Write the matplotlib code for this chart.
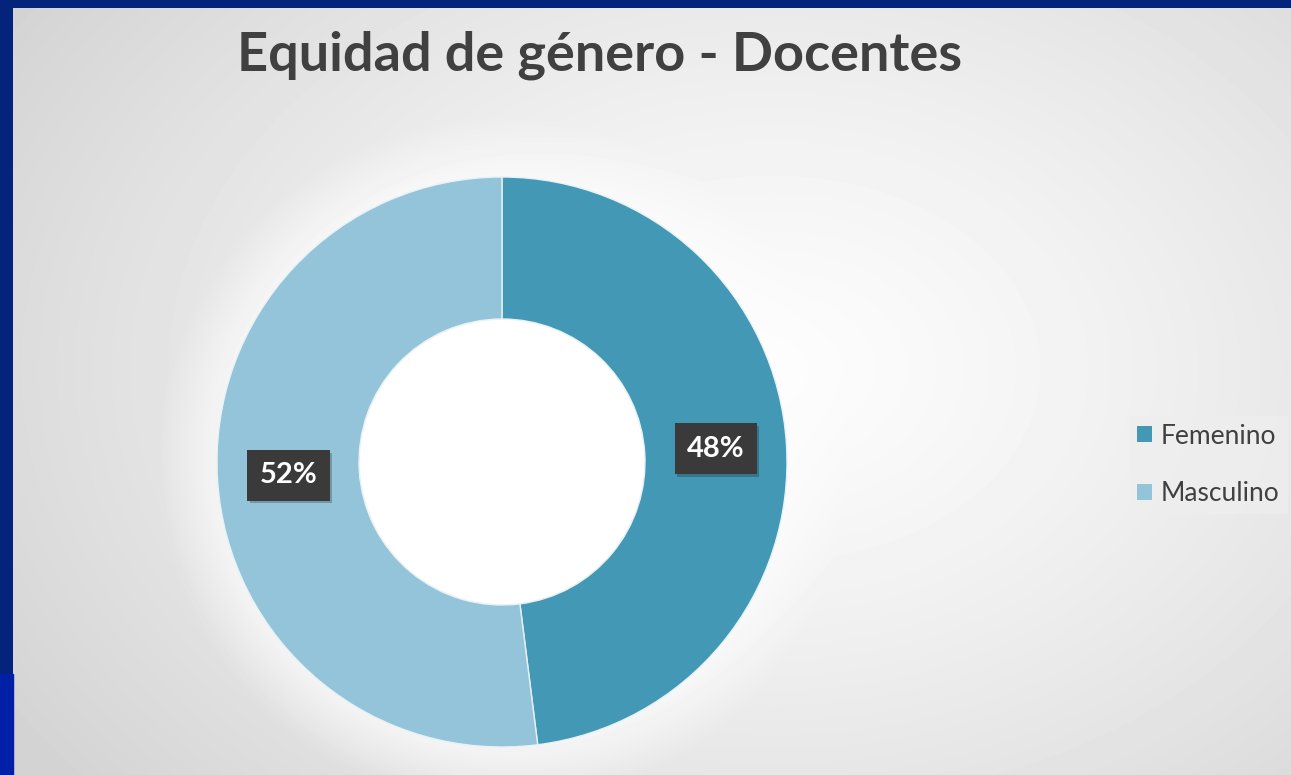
import numpy as np
import matplotlib.pyplot as plt
import matplotlib.patheffects as pe
from matplotlib.patches import Rectangle, Circle

# data
labels = ['Femenino', 'Masculino']
values = [48, 52]
colors = ['#4399b5', '#93c4d9']

W, H = 1291, 775
fig = plt.figure(figsize=(W / 100, H / 100), dpi=100)
fig.patch.set_facecolor('#04237a')

# background gradient panel
bg = fig.add_axes([13 / W, 0, 1 - 13 / W, 1 - 8 / H])
yy, xx = np.mgrid[0:767, 0:1278]
d = np.sqrt(((xx - 760) / 900.0) ** 2 + ((yy - 360) / 650.0) ** 2)
shade = 0.99 - 0.16 * np.clip(d, 0, 1) ** 1.3
# soft white glow around the donut
g = np.sqrt((xx - 489) ** 2 + (yy - 454) ** 2)
shade = shade + (0.99 - shade) * np.clip((345 - g) / 70, 0, 1) * 0.75
bg.imshow(shade, cmap='gray', vmin=0, vmax=1, aspect='auto', interpolation='bilinear')
bg.axis('off')

# lower left blue strip
fig.patches.append(Rectangle((0, 0), 13 / W, 101 / H, transform=fig.transFigure,
                             color='#0020a8', zorder=0))

fig.text(600 / W, 1 - 55 / H, 'Equidad de género - Docentes', ha='center', va='center',
         fontsize=39, fontweight='bold', color='#404040', family='Lato')

# donut
ax = fig.add_axes([(502 - 300) / W, (H - 462 - 300) / H, 600 / W, 600 / H])
wedges, _ = ax.pie(values, radius=285, colors=colors, startangle=90, counterclock=False,
                   wedgeprops=dict(width=142, edgecolor='#e8f2f6', linewidth=1.0))
ax.add_patch(Circle((0, 0), 142, fc='white', ec='none', zorder=0))
ax.set_xlim(-300, 300)
ax.set_ylim(-300, 300)
ax.set_aspect('equal')
ax.axis('off')

start = 90
for v, w in zip(values, wedges):
    mid = np.deg2rad(start - v * 360 / 100 / 2)
    start -= v * 360 / 100
    r = 285 - 71
    t = ax.text(r * np.cos(mid), r * np.sin(mid), f'{v}%', ha='center', va='center',
                fontsize=21, fontweight='bold', color='white', family='Lato',
                bbox=dict(boxstyle='square,pad=0.42', fc='#3a3a3a', ec='none'))
    t.get_bbox_patch().set_path_effects([pe.SimplePatchShadow(offset=(2, -2), alpha=0.25),
                                         pe.Normal()])

# legend
leg = fig.legend(wedges, labels, loc='center left', bbox_to_anchor=(1116 / W, 1 - 465 / H),
                 frameon=True, handlelength=0.55, handleheight=0.55,
                 handletextpad=0.35, labelspacing=1.25, borderpad=0.3,
                 prop={'family': 'Lato', 'size': 19})
leg.get_frame().set_facecolor('#eeeeee')
leg.get_frame().set_edgecolor('none')
leg.get_frame().set_boxstyle('square', pad=0)
for t in leg.get_texts():
    t.set_color('#404040')
for h in leg.legend_handles:
    h.set_edgecolor('none')

fig.savefig('out.png', dpi=100, facecolor=fig.get_facecolor())
